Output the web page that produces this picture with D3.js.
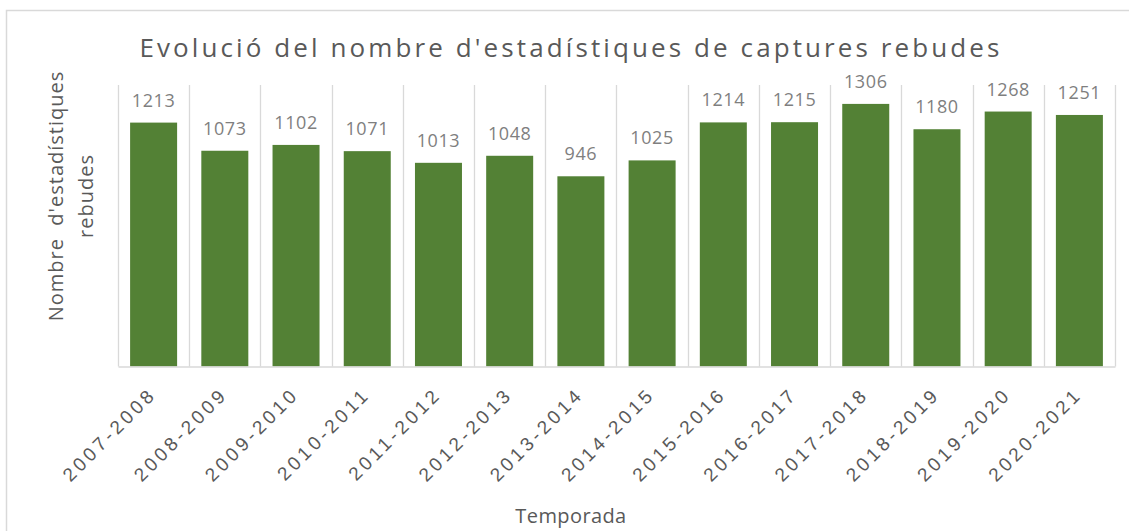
<!DOCTYPE html>
<html>
<head>
<meta charset="utf-8">
<script src="https://cdn.jsdelivr.net/npm/d3@7"></script>
<style>
    body { margin: 0; background: #fff; }
    svg { display: block; font-family: "Open Sans", sans-serif; }
</style>
</head>
<body>
<svg width="1129" height="531"></svg>
<script>
var seasons = ["2007-2008", "2008-2009", "2009-2010", "2010-2011", "2011-2012", "2012-2013", "2013-2014",
    "2014-2015", "2015-2016", "2016-2017", "2017-2018", "2018-2019", "2019-2020", "2020-2021"];
var received = [1213, 1073, 1102, 1071, 1013, 1048, 946, 1025, 1214, 1215, 1306, 1180, 1268, 1251];
var yDomain = [0, 1400];

var chartTitle = "Evolució del nombre d'estadístiques de captures rebudes";
var yTitle = ["Nombre  d'estadístiques", "rebudes"];
var xTitle = "Temporada";

var data = seasons.map((s, i) => ({ season: s, value: received[i] }));

var svg = d3.select("svg");

// chart frame (right and bottom edges fall outside the picture)
svg.append("rect")
    .attr("x", 6.5).attr("y", 10.5)
    .attr("width", 1130).attr("height", 530)
    .attr("fill", "none")
    .attr("stroke", "#d9d9d9")
    .attr("stroke-width", 1.5);

var plotLeft = 118, plotTop = 85, width = 997, height = 281.5;

var x = d3.scaleBand().domain(seasons).range([0, width]).paddingInner(0).paddingOuter(0);
var y = d3.scaleLinear().domain(yDomain).range([height, 0]);

var g = svg.append("g").attr("transform", "translate(" + plotLeft + "," + plotTop + ")");

// category gridlines
g.append("g")
    .selectAll("line")
    .data(seasons.concat(["end"]))
    .enter()
    .append("line")
    .attr("x1", (d, i) => Math.round(i * x.bandwidth()) + 0.5)
    .attr("x2", (d, i) => Math.round(i * x.bandwidth()) + 0.5)
    .attr("y1", 0)
    .attr("y2", height)
    .attr("stroke", "#d9d9d9")
    .attr("stroke-width", 1.3);

var barW = x.bandwidth() * 0.66;

g.append("g")
    .selectAll("rect")
    .data(data)
    .enter()
    .append("rect")
    .attr("x", d => x(d.season) + (x.bandwidth() - barW) / 2)
    .attr("y", d => y(d.value))
    .attr("width", barW)
    .attr("height", d => height - y(d.value))
    .attr("fill", "#538135");

// value labels
g.append("g")
    .selectAll("text")
    .data(data)
    .enter()
    .append("text")
    .attr("x", d => x(d.season) + x.bandwidth() / 2)
    .attr("y", d => y(d.value) - 16)
    .attr("text-anchor", "middle")
    .attr("fill", "#7f7f7f")
    .style("font-size", "18px")
    .style("letter-spacing", "0.6px")
    .text(d => d.value);

// baseline axis
var xAxis = g.append("g")
    .attr("transform", "translate(0," + height + ")")
    .call(d3.axisBottom(x).tickSize(0).tickPadding(0));
xAxis.select(".domain").attr("stroke", "#d9d9d9").attr("stroke-width", 1.5);
xAxis.selectAll("text")
    .attr("fill", "#595959")
    .style("font-size", "19px")
    .style("letter-spacing", "3.6px")
    .attr("text-anchor", "end")
    .attr("dy", 0)
    .attr("transform", "translate(4,29) rotate(-45)");

// titles
svg.append("text")
    .attr("x", 571)
    .attr("y", 57)
    .attr("text-anchor", "middle")
    .attr("fill", "#595959")
    .style("font-size", "26px")
    .style("letter-spacing", "3.1px")
    .text(chartTitle);

var yt = svg.append("text")
    .attr("transform", "translate(63,196) rotate(-90)")
    .attr("text-anchor", "middle")
    .attr("fill", "#595959")
    .style("font-size", "20px")
    .style("letter-spacing", "1px");
yt.selectAll("tspan")
    .data(yTitle)
    .enter()
    .append("tspan")
    .attr("x", 0)
    .attr("dy", (d, i) => i == 0 ? 0 : 30)
    .attr("xml:space", "preserve")
    .style("white-space", "pre")
    .text(d => d);

svg.append("text")
    .attr("x", 571)
    .attr("y", 523)
    .attr("text-anchor", "middle")
    .attr("fill", "#595959")
    .style("font-size", "20px")
    .style("letter-spacing", "0.4px")
    .text(xTitle);
</script>
</body>
</html>
